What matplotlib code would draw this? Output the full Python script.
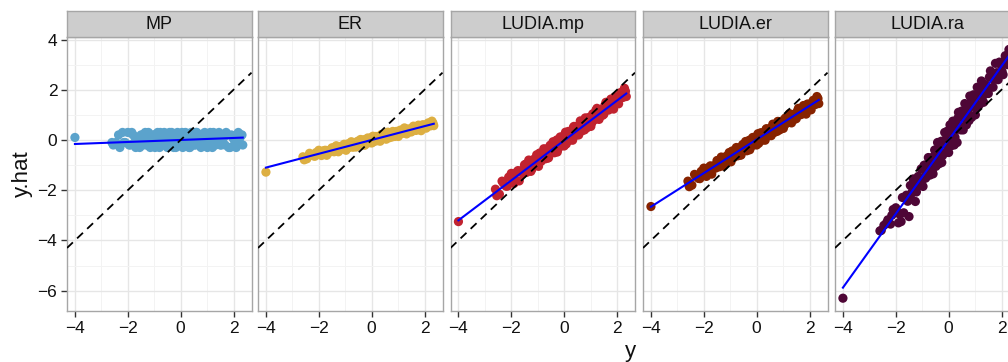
import numpy as np
import matplotlib
matplotlib.use("Agg")
import matplotlib.pyplot as plt

plt.rcParams['font.family'] = ['Liberation Sans', 'DejaVu Sans']

panels = ["MP", "ER", "LUDIA.mp", "LUDIA.er", "LUDIA.ra"]
colors = ["#5BA3CC", "#DDAF42", "#C1232F", "#872300", "#4E0636"]

# ---- batch A of observations ----
y_true_a = [-4.0, -2.6, -2.45, -2.3, -2.2, -2.1, -1.95, -1.85, -1.75, -1.65, -1.55, -1.45,
            -1.38, -1.3, -1.22, -1.15, -1.08, -1.0, -0.93, -0.87, -0.8, -0.74, -0.68, -0.62,
            -0.56, -0.5, -0.45, -0.4, -0.34, -0.28, -0.23, -0.18, -0.12, -0.07, -0.02, 0.03,
            0.08, 0.13, 0.18, 0.24, 0.29, 0.35, 0.4, 0.46, 0.52, 0.58, 0.64, 0.7, 0.77, 0.84,
            0.91, 0.98, 1.05, 1.12, 1.2, 1.28, 1.36, 1.45, 1.54, 1.63, 1.72, 1.82, 1.92, 2.02,
            2.1, 2.18, 2.25, 2.32]

yhat_MP_a = [0.1, -0.1, -0.1, -0.3, 0.3, -0.1, -0.2, 0.3, -0.1, 0.0, -0.3, 0.2, 0.1, -0.2,
             0.3, -0.3, 0.0, 0.2, -0.1, 0.3, -0.3, 0.1, -0.2, 0.3, 0.0, -0.3, 0.2, -0.1, 0.3,
             -0.2, 0.1, -0.3, 0.3, 0.0, -0.2, 0.2, -0.3, 0.1, 0.3, -0.1, 0.2, -0.3, 0.3, 0.0,
             -0.2, 0.3, -0.1, 0.2, -0.3, 0.1, 0.3, -0.2, 0.0, 0.3, -0.3, 0.2, -0.1, 0.3, -0.2,
             0.1, 0.3, -0.3, 0.2, 0.0, -0.3, 0.3, 0.1, 0.2]

yhat_ER_a = [-1.28, -0.67, -0.75, -0.58, -0.63, -0.5, -0.54, -0.57, -0.41, -0.42, -0.47, -0.32,
             -0.39, -0.32, -0.41, -0.26, -0.29, -0.31, -0.17, -0.3, -0.19, -0.2, -0.12, -0.26,
             -0.11, -0.15, -0.06, -0.15, -0.08, 0.01, -0.13, -0.02, -0.03, 0.04, -0.04, 0.05,
             -0.07, 0.11, 0.06, 0.01, 0.11, 0.19, 0.1, 0.06, 0.18, 0.22, 0.15, 0.2, 0.12, 0.3,
             0.25, 0.3, 0.23, 0.35, 0.42, 0.31, 0.38, 0.33, 0.48, 0.48, 0.44, 0.5, 0.6, 0.5,
             0.59, 0.64, 0.61, 0.67]

yhat_LUDIA_mp_a = [-3.25, -1.96, -2.16, -1.72, -1.84, -1.48, -1.56, -1.63, -1.22, -1.24, -1.34,
                   -0.96, -1.13, -0.94, -1.16, -0.77, -0.83, -0.88, -0.52, -0.85, -0.56, -0.59,
                   -0.36, -0.72, -0.35, -0.43, -0.21, -0.42, -0.24, 0.0, -0.36, -0.06, -0.1,
                   0.09, -0.1, 0.12, -0.16, 0.28, 0.17, 0.04, 0.31, 0.5, 0.29, 0.19, 0.52, 0.61,
                   0.43, 0.59, 0.4, 0.85, 0.73, 0.86, 0.69, 1.0, 1.18, 0.92, 1.12, 0.98, 1.38,
                   1.38, 1.3, 1.46, 1.72, 1.47, 1.71, 1.84, 1.77, 1.94]

yhat_LUDIA_er_a = [-2.65, -1.64, -1.8, -1.44, -1.53, -1.25, -1.31, -1.36, -1.03, -1.05, -1.12,
                   -0.81, -0.94, -0.79, -0.96, -0.65, -0.7, -0.73, -0.44, -0.7, -0.48, -0.5,
                   -0.32, -0.6, -0.3, -0.36, -0.18, -0.35, -0.21, -0.01, -0.29, -0.06, -0.08,
                   0.07, -0.07, 0.1, -0.13, 0.23, 0.14, 0.04, 0.25, 0.41, 0.25, 0.17, 0.43, 0.51,
                   0.37, 0.49, 0.34, 0.7, 0.61, 0.72, 0.58, 0.83, 0.98, 0.78, 0.93, 0.83, 1.15,
                   1.15, 1.09, 1.22, 1.43, 1.23, 1.43, 1.54, 1.49, 1.65]

yhat_LUDIA_ra_a = [-6.3, -3.62, -3.4, -3.18, -3.35, -2.77, -2.87, -2.96, -2.29, -2.31, -2.44,
                   -1.81, -2.07, -1.75, -2.07, -1.45, -1.55, -1.59, -1.01, -1.52, -1.06, -1.09,
                   -0.72, -1.27, -0.66, -0.78, -0.42, -0.75, -0.46, -0.05, -0.62, -0.14, -0.18,
                   0.14, -0.15, 0.2, -0.24, 0.47, 0.3, 0.11, 0.55, 0.87, 0.55, 0.4, 0.92, 1.09,
                   0.82, 1.07, 0.77, 1.51, 1.34, 1.56, 1.3, 1.81, 2.12, 1.72, 2.04, 1.85, 2.5,
                   2.52, 2.41, 2.68, 3.1, 2.73, 3.13, 3.36, 3.27, 3.61]

# ---- batch B of observations ----
y_true_b = [-2.55, -2.35, -2.15, -2.0, -1.9, -1.8, -1.7, -1.6, -1.5, -1.42, -1.34, -1.26,
            -1.18, -1.11, -1.04, -0.97, -0.9, -0.84, -0.77, -0.71, -0.65, -0.59, -0.53, -0.48,
            -0.42, -0.37, -0.31, -0.26, -0.2, -0.15, -0.1, -0.05, 0.0, 0.05, 0.1, 0.16, 0.21,
            0.26, 0.32, 0.37, 0.43, 0.49, 0.55, 0.61, 0.67, 0.74, 0.8, 0.87, 0.94, 1.01, 1.08,
            1.16, 1.24, 1.32, 1.4, 1.5, 1.58, 1.68, 1.77, 1.87, 1.97, 2.06, 2.14, 2.22, 2.28,
            2.35]

yhat_MP_b = [-0.2, 0.2, -0.1, 0.3, -0.2, 0.2, -0.3, 0.1, 0.2, -0.2, 0.3, -0.2, 0.1, -0.1,
             0.2, -0.3, 0.2, -0.1, 0.3, -0.2, 0.1, -0.2, 0.2, -0.1, 0.3, -0.2, 0.2, -0.3, 0.1,
             0.2, -0.2, 0.2, -0.2, 0.3, -0.1, 0.2, -0.2, 0.1, -0.3, 0.2, -0.1, 0.2, -0.2, 0.3,
             -0.2, 0.1, 0.2, -0.2, 0.2, -0.3, 0.2, -0.1, 0.3, -0.2, 0.1, -0.2, 0.2, -0.2, 0.2,
             -0.3, 0.1, -0.2, 0.2, -0.1, 0.2, -0.2]

yhat_ER_b = [-0.79, -0.53, -0.65, -0.41, -0.62, -0.42, -0.61, -0.41, -0.31, -0.47, -0.23,
             -0.47, -0.26, -0.34, -0.17, -0.41, -0.16, -0.28, -0.07, -0.29, -0.15, -0.28,
             -0.05, -0.19, 0.02, -0.2, -0.01, -0.21, -0.01, 0.08, -0.11, 0.08, -0.12, 0.15,
             0.0, 0.14, -0.03, 0.13, -0.05, 0.22, 0.07, 0.21, 0.03, 0.31, 0.09, 0.23, 0.34,
             0.14, 0.34, 0.14, 0.39, 0.26, 0.48, 0.24, 0.44, 0.32, 0.55, 0.38, 0.59, 0.37,
             0.6, 0.47, 0.68, 0.56, 0.75, 0.57]

yhat_LUDIA_mp_b = [-2.22, -1.64, -1.84, -1.33, -1.73, -1.29, -1.63, -1.22, -0.99, -1.29, -0.8,
                   -1.25, -0.82, -0.95, -0.59, -1.05, -0.54, -0.76, -0.35, -0.75, -0.46, -0.71,
                   -0.21, -0.5, -0.07, -0.51, -0.1, -0.48, -0.07, 0.12, -0.23, 0.14, -0.24,
                   0.31, 0.02, 0.34, -0.01, 0.33, -0.01, 0.54, 0.25, 0.54, 0.2, 0.76, 0.36,
                   0.65, 0.88, 0.49, 0.9, 0.54, 1.04, 0.81, 1.26, 0.82, 1.21, 1.02, 1.5, 1.19,
                   1.63, 1.23, 1.7, 1.44, 1.89, 1.69, 2.06, 1.73]

yhat_LUDIA_er_b = [-1.86, -1.37, -1.54, -1.12, -1.45, -1.09, -1.36, -1.02, -0.82, -1.07, -0.68,
                   -1.04, -0.69, -0.79, -0.5, -0.87, -0.45, -0.64, -0.3, -0.63, -0.39, -0.6,
                   -0.18, -0.42, -0.06, -0.43, -0.09, -0.39, -0.05, 0.1, -0.19, 0.12, -0.2,
                   0.25, 0.02, 0.29, -0.01, 0.27, -0.01, 0.45, 0.21, 0.45, 0.17, 0.63, 0.3,
                   0.55, 0.74, 0.4, 0.75, 0.46, 0.87, 0.68, 1.05, 0.68, 1.02, 0.85, 1.26, 1.01,
                   1.37, 1.03, 1.42, 1.2, 1.58, 1.41, 1.73, 1.45]

yhat_LUDIA_ra_b = [-3.6, -3.3, -3.0, -2.7, -3.3, -3.25, -2.9, -2.2, -3.05, -2.35, -1.55, -2.45,
                   -1.55, -1.78, -1.15, -1.85, -1.0, -1.37, -0.7, -1.4, -0.8, -1.35, -0.4,
                   -1.05, -0.1, -0.95, -0.16, -0.9, -0.1, 0.3, -0.5, 0.35, -0.5, 0.6, 0.0,
                   0.75, -0.2, 0.75, -0.1, 1.1, 0.5, 1.15, 0.4, 1.45, 0.6, 1.2, 1.75, 0.9, 1.8,
                   1.0, 2.1, 1.4, 2.35, 1.5, 2.2, 1.85, 2.75, 2.1, 3.05, 2.4, 3.0, 2.6, 3.35,
                   3.0, 3.6, 3.25]

# fitted lm lines (intercept, slope)
fit_intercept = [0.0, 0.0, -0.02, 0.02, 0.0]
fit_slope = [0.04, 0.275, 0.795, 0.67, 1.47]

x_ticks = [-4, -2, 0, 2]
y_ticks = [-6, -4, -2, 0, 2, 4]

yhats_a = [yhat_MP_a, yhat_ER_a, yhat_LUDIA_mp_a, yhat_LUDIA_er_a, yhat_LUDIA_ra_a]
yhats_b = [yhat_MP_b, yhat_ER_b, yhat_LUDIA_mp_b, yhat_LUDIA_er_b, yhat_LUDIA_ra_b]

W, H = 1008, 362
fig = plt.figure(figsize=(W / 100, H / 100), dpi=100)

left_px = [67, 258, 450.5, 643, 835]
pw = 184.5
top_px, bot_px = 37, 311
strip_top = 11

xlim = (-4.30, 2.68)
ylim = (-6.81, 4.10)

for i, name in enumerate(panels):
    l = left_px[i] / W
    b = (H - bot_px) / H
    h = (bot_px - top_px) / H
    ax = fig.add_axes([l, b, pw / W, h])
    ax.set_xlim(*xlim)
    ax.set_ylim(*ylim)
    ax.set_facecolor("white")
    ax.set_xticks(x_ticks)
    ax.set_yticks(y_ticks)
    ax.set_xticks([-3, -1, 1], minor=True)
    ax.set_yticks([-5, -3, -1, 1, 3], minor=True)
    ax.grid(True, which="major", color="#E6E6E6", lw=1.0, zorder=0)
    ax.grid(True, which="minor", color="#F3F3F3", lw=0.7, zorder=0)
    ax.set_axisbelow(True)
    for s in ax.spines.values():
        s.set_color("#A6A6A6")
        s.set_linewidth(1.0)
    ax.tick_params(which="minor", length=0)
    ax.tick_params(which="major", direction="out", length=4, width=1,
                   color="#333333", labelsize=12.5, labelcolor="#111111", pad=3)
    if i != 0:
        ax.tick_params(axis="y", which="major", left=False, labelleft=False)

    xs = np.concatenate([y_true_a, y_true_b])
    ys = np.concatenate([yhats_a[i], yhats_b[i]])
    ax.scatter(xs, ys, s=44, color=colors[i], edgecolors="none", zorder=3)
    xx = np.array([xs.min(), xs.max()])
    ax.plot(xx, fit_intercept[i] + fit_slope[i] * xx, color="#0000FF", lw=1.5, zorder=4)
    ax.plot(list(xlim), list(xlim), color="black", lw=1.3, ls=(0, (4.5, 3.2)), zorder=5)

    # strip
    sax = fig.add_axes([l, (H - top_px) / H, pw / W, (top_px - strip_top) / H])
    sax.set_facecolor("#CDCDCD")
    sax.set_xticks([])
    sax.set_yticks([])
    for s in sax.spines.values():
        s.set_color("#A6A6A6")
        s.set_linewidth(1.0)
    sax.text(0.5, 0.47, name, ha="center", va="center", fontsize=13,
             color="#111111", transform=sax.transAxes)

fig.text(630 / W, 1 - 351 / H, "y", ha="center", va="center", fontsize=16, color="#111111")
fig.text(22 / W, 1 - 174 / H, "y.hat", ha="center", va="center", rotation=90,
         fontsize=16, color="#111111")

fig.savefig("out.png", dpi=100)
